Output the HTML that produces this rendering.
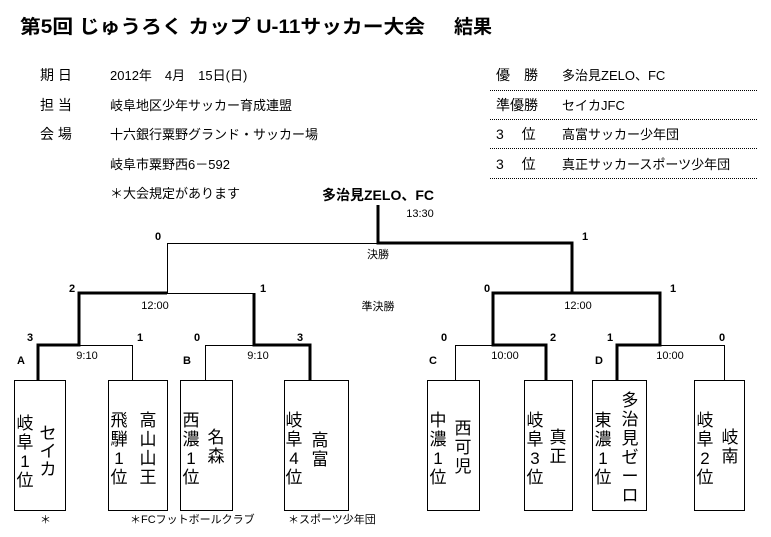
<!DOCTYPE html>
<html><head><meta charset="utf-8"><style>
body{margin:0;background:#fff;width:771px;height:537px;overflow:hidden}
svg{display:block;font-family:"Liberation Sans","Noto Sans CJK JP",sans-serif}
.c{font-size:17px;text-anchor:middle}
.s{font-size:11px;font-weight:bold;text-anchor:middle}
.t{font-size:11px;text-anchor:middle}
.h{font-size:14px}
</style></head><body>
<svg width="771" height="537" viewBox="0 0 771 537">
<text x="20" y="33" font-size="19" font-weight="bold" textLength="405" lengthAdjust="spacingAndGlyphs">第5回 じゅうろく カップ U-11サッカー大会</text>
<text x="454" y="33" font-size="19" font-weight="bold">結果</text>
<g class="h">
<text x="40" y="80">期 日</text><text x="110" y="80" font-size="13">2012年　4月　15日(日)</text>
<text x="40" y="110">担 当</text><text x="110" y="110" font-size="13">岐阜地区少年サッカー育成連盟</text>
<text x="40" y="139">会 場</text><text x="110" y="139" font-size="13">十六銀行粟野グランド・サッカー場</text>
<text x="110" y="169" font-size="13">岐阜市粟野西6－592</text>
<text x="110" y="198" font-size="13">＊大会規定があります</text>
<text x="496" y="80">優　勝</text><text x="562" y="80" font-size="13">多治見ZELO、FC</text>
<text x="496" y="110">準優勝</text><text x="562" y="110" font-size="13">セイカJFC</text>
<text x="496" y="139">3　 位</text><text x="562" y="139" font-size="13">高富サッカー少年団</text>
<text x="496" y="169">3　 位</text><text x="562" y="169" font-size="13">真正サッカースポーツ少年団</text>
</g>
<g stroke="#000" stroke-dasharray="1,1" stroke-width="1">
<line x1="490" y1="90.5" x2="757" y2="90.5"/><line x1="490" y1="119.5" x2="757" y2="119.5"/>
<line x1="490" y1="148.5" x2="757" y2="148.5"/><line x1="490" y1="178.5" x2="757" y2="178.5"/>
</g>
<text x="378" y="200" font-size="14" font-weight="bold" text-anchor="middle">多治見ZELO、FC</text>
<text x="420" y="217" class="t">13:30</text>
<text x="378" y="258" class="t" font-size="12">決勝</text>
<text x="378" y="310" class="t" font-size="12">準決勝</text>
<text x="155" y="309" class="t">12:00</text><text x="578" y="309" class="t">12:00</text>
<text x="87" y="359" class="t">9:10</text><text x="258" y="359" class="t">9:10</text>
<text x="505" y="359" class="t">10:00</text><text x="670" y="359" class="t">10:00</text>
<g class="s">
<text x="158" y="240">0</text><text x="585" y="240">1</text>
<text x="72" y="292">2</text><text x="263" y="292">1</text><text x="487" y="292">0</text><text x="673" y="292">1</text>
<text x="30" y="341">3</text><text x="140" y="341">1</text><text x="197" y="341">0</text><text x="300" y="341">3</text>
<text x="444" y="341">0</text><text x="553" y="341">2</text><text x="610" y="341">1</text><text x="722" y="341">0</text>
<text x="21" y="364">A</text><text x="187" y="364">B</text><text x="433" y="364">C</text><text x="599" y="364">D</text>
</g>
<g stroke="#000" fill="none">
<g stroke-width="1">
<line x1="378" y1="243.5" x2="167" y2="243.5"/><line x1="167.5" y1="243" x2="167.5" y2="293"/>
<line x1="167" y1="293.5" x2="254" y2="293.5"/><line x1="493" y1="293.5" x2="572" y2="293.5"/>
<line x1="79" y1="345.5" x2="132" y2="345.5"/><line x1="132.5" y1="345" x2="132.5" y2="380"/>
<line x1="205" y1="345.5" x2="254" y2="345.5"/><line x1="205.5" y1="345" x2="205.5" y2="380"/>
<line x1="455" y1="345.5" x2="493" y2="345.5"/><line x1="455.5" y1="345" x2="455.5" y2="380"/>
<line x1="660" y1="345.5" x2="724" y2="345.5"/><line x1="724.5" y1="345" x2="724.5" y2="380"/>
</g>
<g stroke-width="3">
<polyline points="378,205 378,243 572,243 572,293 660,293 660,345 617,345 617,380"/>
<polyline points="572,293 493,293 493,345 546,345 546,380"/>
<polyline points="167,293 79,293 79,345 38,345 38,380"/>
<polyline points="254,293 254,345 310,345 310,380"/>
</g>
<g stroke-width="1">
<rect x="14.5" y="380.5" width="51" height="130"/><rect x="108.5" y="380.5" width="59" height="130"/>
<rect x="180.5" y="380.5" width="52" height="130"/><rect x="284.5" y="380.5" width="64" height="130"/>
<rect x="427.5" y="380.5" width="52" height="130"/><rect x="524.5" y="380.5" width="48" height="130"/>
<rect x="592.5" y="380.5" width="54" height="130"/><rect x="694.5" y="380.5" width="50" height="130"/>
</g>
</g>
<g class="c">
<text x="25" y="429">岐</text><text x="25" y="448">阜</text><text x="25" y="467">1</text><text x="25" y="486">位</text>
<text x="48" y="439">セ</text><text x="48" y="457">イ</text><text x="48" y="475">カ</text>
<text x="119" y="426">飛</text><text x="119" y="445">騨</text><text x="119" y="464">1</text><text x="119" y="483">位</text>
<text x="148" y="426">高</text><text x="148" y="445">山</text><text x="148" y="464">山</text><text x="148" y="483">王</text>
<text x="191" y="426">西</text><text x="191" y="445">濃</text><text x="191" y="464">1</text><text x="191" y="483">位</text>
<text x="216" y="443">名</text><text x="216" y="462">森</text>
<text x="294" y="426">岐</text><text x="294" y="445">阜</text><text x="294" y="464">4</text><text x="294" y="483">位</text>
<text x="320" y="446">高</text><text x="320" y="465">富</text>
<text x="438" y="426">中</text><text x="438" y="445">濃</text><text x="438" y="464">1</text><text x="438" y="483">位</text>
<text x="463" y="434">西</text><text x="463" y="453">可</text><text x="463" y="472">児</text>
<text x="535" y="426">岐</text><text x="535" y="445">阜</text><text x="535" y="464">3</text><text x="535" y="483">位</text>
<text x="558" y="443">真</text><text x="558" y="462">正</text>
<text x="603" y="426">東</text><text x="603" y="445">濃</text><text x="603" y="464">1</text><text x="603" y="483">位</text>
<text x="630" y="406">多</text><text x="630" y="425">治</text><text x="630" y="444">見</text><text x="630" y="463">ゼ</text><text x="630" y="482">ー</text><text x="630" y="501">ロ</text>
<text x="705" y="426">岐</text><text x="705" y="445">阜</text><text x="705" y="464">2</text><text x="705" y="483">位</text>
<text x="730" y="443">岐</text><text x="730" y="462">南</text>
</g>
<g font-size="11">
<text x="40" y="523">＊</text>
<text x="130" y="523">＊FCフットボールクラブ</text>
<text x="288" y="523">＊スポーツ少年団</text>
</g>
</svg>
</body></html>
